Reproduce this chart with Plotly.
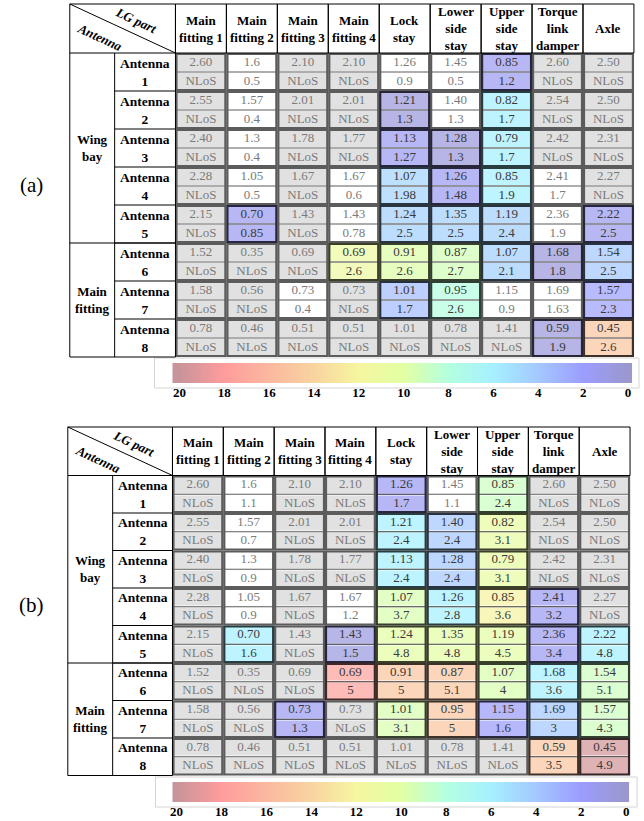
import numpy as np
import plotly.graph_objects as go
from plotly.colors import sample_colorscale, unlabel_rgb, hex_to_rgb

W, H = 644, 821
FONT = "Liberation Serif"

# ---------------- data ----------------
parts = ["Main<br>fitting 1", "Main<br>fitting 2", "Main<br>fitting 3", "Main<br>fitting 4",
         "Lock<br>stay", "Lower<br>side<br>stay", "Upper<br>side<br>stay",
         "Torque<br>link<br>damper", "Axle"]
antennas = ["Antenna<br>1", "Antenna<br>2", "Antenna<br>3", "Antenna<br>4",
            "Antenna<br>5", "Antenna<br>6", "Antenna<br>7", "Antenna<br>8"]
groups = ["Wing<br>bay", "Main<br>fitting"]
group_sizes = [5, 3]

distance = [
    ["2.60", "1.6", "2.10", "2.10", "1.26", "1.45", "0.85", "2.60", "2.50"],
    ["2.55", "1.57", "2.01", "2.01", "1.21", "1.40", "0.82", "2.54", "2.50"],
    ["2.40", "1.3", "1.78", "1.77", "1.13", "1.28", "0.79", "2.42", "2.31"],
    ["2.28", "1.05", "1.67", "1.67", "1.07", "1.26", "0.85", "2.41", "2.27"],
    ["2.15", "0.70", "1.43", "1.43", "1.24", "1.35", "1.19", "2.36", "2.22"],
    ["1.52", "0.35", "0.69", "0.69", "0.91", "0.87", "1.07", "1.68", "1.54"],
    ["1.58", "0.56", "0.73", "0.73", "1.01", "0.95", "1.15", "1.69", "1.57"],
    ["0.78", "0.46", "0.51", "0.51", "1.01", "0.78", "1.41", "0.59", "0.45"],
]

second_a = [
    ["NLoS", "0.5", "NLoS", "NLoS", "0.9", "0.5", "1.2", "NLoS", "NLoS"],
    ["NLoS", "0.4", "NLoS", "NLoS", "1.3", "1.3", "1.7", "NLoS", "NLoS"],
    ["NLoS", "0.4", "NLoS", "NLoS", "1.27", "1.3", "1.7", "NLoS", "NLoS"],
    ["NLoS", "0.5", "NLoS", "0.6", "1.98", "1.48", "1.9", "1.7", "NLoS"],
    ["NLoS", "0.85", "NLoS", "0.78", "2.5", "2.5", "2.4", "1.9", "2.5"],
    ["NLoS", "NLoS", "NLoS", "2.6", "2.6", "2.7", "2.1", "1.8", "2.5"],
    ["NLoS", "NLoS", "0.4", "NLoS", "1.7", "2.6", "0.9", "1.63", "2.3"],
    ["NLoS", "NLoS", "NLoS", "NLoS", "NLoS", "NLoS", "NLoS", "1.9", "2.6"],
]

second_b = [
    ["NLoS", "1.1", "NLoS", "NLoS", "1.7", "1.1", "2.4", "NLoS", "NLoS"],
    ["NLoS", "0.7", "NLoS", "NLoS", "2.4", "2.4", "3.1", "NLoS", "NLoS"],
    ["NLoS", "0.9", "NLoS", "NLoS", "2.4", "2.4", "3.1", "NLoS", "NLoS"],
    ["NLoS", "0.9", "NLoS", "1.2", "3.7", "2.8", "3.6", "3.2", "NLoS"],
    ["NLoS", "1.6", "NLoS", "1.5", "4.8", "4.8", "4.5", "3.4", "4.8"],
    ["NLoS", "NLoS", "NLoS", "5", "5", "5.1", "4", "3.6", "5.1"],
    ["NLoS", "NLoS", "1.3", "NLoS", "3.1", "5", "1.6", "3", "4.3"],
    ["NLoS", "NLoS", "NLoS", "NLoS", "NLoS", "NLoS", "NLoS", "3.5", "4.9"],
]

# colour level (0-20 scale) read from each highlighted cell; None = not highlighted
N = None
level_a = [
    [N, N, N, N, N, N, 1.5, N, N],
    [N, N, N, N, 0.6, N, 6.0, N, N],
    [N, N, N, N, 1.5, 0.6, 6.0, N, N],
    [N, N, N, N, 4.6, 1.5, 6.0, N, N],
    [N, 1.5, N, N, 4.4, 4.4, 4.4, N, 1.4],
    [N, N, N, 11.2, 9.8, 9.3, 4.4, 0.6, 4.0],
    [N, N, N, N, 3.5, 8.0, N, N, 2.3],
    [N, N, N, N, N, N, N, 0.6, 15.0],
]
level_b = [
    [N, N, N, N, 1.5, N, 9.0, N, N],
    [N, N, N, N, 6.0, 4.0, 10.6, N, N],
    [N, N, N, N, 6.0, 4.0, 10.6, N, N],
    [N, N, N, N, 9.6, 6.0, 12.2, 1.5, N],
    [N, 6.0, N, 0.8, 10.2, 10.2, 10.2, 1.5, 6.0],
    [N, N, N, 17.6, 15.0, 15.0, 9.6, 6.0, 9.1],
    [N, N, 1.5, N, 9.6, 15.0, 1.8, 4.0, 9.1],
    [N, N, N, N, N, N, N, 15.0, 19.6],
]

cbar_ticks = [20, 18, 16, 14, 12, 10, 8, 6, 4, 2, 0]

# ---------------- style ----------------
scale_hex = ["#9a98cc", "#9c9cff", "#a4c8ff", "#a6f0ff", "#b4ffe0", "#e2ffa4",
             "#f6f6a0", "#f8d4a0", "#fbb8a0", "#ff9c9c", "#c8949a"]
cs = [[i / (len(scale_hex) - 1), "rgb(%d,%d,%d)" % hex_to_rgb(h)] for i, h in enumerate(scale_hex)]


def darker(rgbstr, f=0.25):
    r, g, b = unlabel_rgb(rgbstr)
    return "rgb(%d,%d,%d)" % (int(r * f), int(g * f), int(b * f))


def fx(px):
    return px / W


def fy(py):
    return 1 - py / H


panels = [
    dict(tag="(a)", second=second_a, level=level_a, x0=174.0, cw=51.1, y0=53.0, rh=19.0, hdr=49.0,
         gw=45.0, aw=61.0, dom=(0, 362), grad=(171, 632, 363, 383), cbr=(20.31, -0.18),
         frame=(153, 639, 358, 388), tag_y=185),
    dict(tag="(b)", second=second_b, level=level_b, x0=171.0, cw=51.0, y0=475.5, rh=18.75, hdr=48.5,
         gw=45.0, aw=60.0, dom=(420, 780), grad=(171, 629, 782, 802), cbr=(20.18, -0.13),
         frame=(154, 637, 777, 807), tag_y=605),
]

fig = go.Figure()
layout = dict(width=W, height=H, margin=dict(l=0, r=0, t=0, b=0),
              paper_bgcolor="white", plot_bgcolor="rgba(0,0,0,0)", showlegend=False)
shapes, annotations = [], []
nc, na = len(parts), len(antennas)


def axname(kind, i):
    return f"{kind}axis" if i == 1 else f"{kind}axis{i}"


def axref(kind, i):
    return kind if i == 1 else f"{kind}{i}"


for p, P in enumerate(panels):
    ti, ci = 2 * p + 1, 2 * p + 2
    xr, yr = axref("x", ti), axref("y", ti)
    x0, cw, y0, rh = P["x0"], P["cw"], P["y0"], P["rh"]
    top_px, bot_px = P["dom"]
    layout[axname("x", ti)] = dict(domain=[0, 1], range=[(0 - x0) / cw - 0.5, (W - x0) / cw - 0.5],
                                   visible=False, fixedrange=True, anchor=yr)
    layout[axname("y", ti)] = dict(domain=[fy(bot_px), fy(top_px)],
                                   range=[(bot_px - y0) / rh - 0.5, (top_px - y0) / rh - 0.5],
                                   visible=False, fixedrange=True, anchor=xr)
    second, level = P["second"], P["level"]

    rows_idx = list(range(2 * na))
    zc = [[level[a][c] for c in range(nc)] for a in range(na) for k in range(2)]
    zg = [[1 if second[a][c] == "NLoS" else None for c in range(nc)] for a in range(na) for k in range(2)]

    fig.add_trace(go.Heatmap(x=list(range(nc)), y=rows_idx, z=zg, xaxis=xr, yaxis=yr,
                             colorscale=[[0, "#e1e1e1"], [1, "#e1e1e1"]], showscale=False,
                             xgap=2, ygap=2, hoverinfo="skip"))
    fig.add_trace(go.Heatmap(x=list(range(nc)), y=rows_idx, z=zc, xaxis=xr, yaxis=yr,
                             colorscale=cs, zmin=0, zmax=20, opacity=0.72, showscale=False,
                             xgap=2, ygap=2, hoverinfo="skip"))

    # cell texts
    tx, ty, tt, tcol = [], [], [], []
    for a in range(na):
        for k in range(2):
            for c in range(nc):
                tx.append(c)
                ty.append(2 * a + k)
                tt.append(distance[a][c] if k == 0 else second[a][c])
                tcol.append("#3a3a3a" if level[a][c] is not None else "#7a7a7a")
    fig.add_trace(go.Scatter(x=tx, y=ty, text=tt, mode="text", xaxis=xr, yaxis=yr,
                             textfont=dict(family=FONT, size=13, color=tcol),
                             cliponaxis=False, hoverinfo="skip"))

    # block borders
    ix, iy = 1.0 / cw, 1.0 / rh
    order = sorted([(a, c) for a in range(na) for c in range(nc)],
                   key=lambda t: level[t[0]][t[1]] is not None)
    for a, c in order:
        lev = level[a][c]
        col = "#5c5c5c" if lev is None else darker(sample_colorscale(cs, [lev / 20])[0])
        shapes.append(dict(type="rect", xref=xr, yref=yr, x0=c - 0.5 + ix, x1=c + 0.5 - ix,
                           y0=2 * a - 0.5 + iy, y1=2 * a + 1.5 - iy, line=dict(color=col, width=2.2)))
        shapes.append(dict(type="line", xref=xr, yref=yr, x0=c - 0.5 + ix, x1=c + 0.5 - ix,
                           y0=2 * a + 0.5, y1=2 * a + 0.5, line=dict(color=col, width=1.2)))

    # header row
    hdr_top = -0.5 - P["hdr"] / rh
    hdr_mid = (hdr_top - 0.5) / 2
    for c, name in enumerate(parts):
        shapes.append(dict(type="rect", xref=xr, yref=yr, x0=c - 0.5, x1=c + 0.5, y0=hdr_top, y1=-0.5,
                           line=dict(color="black", width=1)))
        annotations.append(dict(xref=xr, yref=yr, x=c, y=hdr_mid, text=f"<b>{name}</b>", showarrow=False,
                                font=dict(family=FONT, size=13, color="black")))
    ant_left = -0.5 - P["aw"] / cw
    grp_left = ant_left - P["gw"] / cw
    last = 2 * na - 0.5
    shapes.append(dict(type="rect", xref=xr, yref=yr, x0=grp_left, x1=-0.5, y0=hdr_top, y1=-0.5,
                       line=dict(color="black", width=1)))
    shapes.append(dict(type="line", xref=xr, yref=yr, x0=grp_left, x1=-0.5, y0=hdr_top, y1=-0.5,
                       line=dict(color="black", width=1)))
    dw, dh = -0.5 - grp_left, -0.5 - hdr_top
    annotations.append(dict(xref=xr, yref=yr, x=grp_left + 0.63 * dw, y=hdr_top + 0.34 * dh,
                            text="<b><i>LG part</i></b>", showarrow=False, textangle=25,
                            font=dict(family=FONT, size=13, color="black")))
    annotations.append(dict(xref=xr, yref=yr, x=grp_left + 0.29 * dw, y=hdr_top + 0.68 * dh,
                            text="<b><i>Antenna</i></b>", showarrow=False, textangle=25,
                            font=dict(family=FONT, size=13, color="black")))

    # label columns
    for xv in (grp_left, ant_left, -0.5):
        shapes.append(dict(type="line", xref=xr, yref=yr, x0=xv, x1=xv, y0=-0.5, y1=last,
                           line=dict(color="black", width=1)))
    shapes.append(dict(type="line", xref=xr, yref=yr, x0=grp_left, x1=-0.5, y0=last, y1=last,
                       line=dict(color="black", width=1)))
    for a, name in enumerate(antennas):
        if a > 0:
            shapes.append(dict(type="line", xref=xr, yref=yr, x0=ant_left, x1=-0.5,
                               y0=2 * a - 0.5, y1=2 * a - 0.5, line=dict(color="black", width=1)))
        annotations.append(dict(xref=xr, yref=yr, x=(ant_left - 0.5) / 2, y=2 * a + 0.5,
                                text=f"<b>{name}</b>", showarrow=False,
                                font=dict(family=FONT, size=13.5, color="black")))
    start = 0
    for g, size in zip(groups, group_sizes):
        if start > 0:
            shapes.append(dict(type="line", xref=xr, yref=yr, x0=grp_left, x1=-0.5,
                               y0=2 * start - 0.5, y1=2 * start - 0.5, line=dict(color="black", width=1)))
        annotations.append(dict(xref=xr, yref=yr, x=(grp_left + ant_left) / 2,
                                y=(2 * start - 0.5 + 2 * (start + size) - 0.5) / 2,
                                text=f"<b>{g}</b>", showarrow=False,
                                font=dict(family=FONT, size=13, color="black")))
        start += size

    # colour bar
    cx, cy = axref("x", ci), axref("y", ci)
    gx0, gx1, gy0, gy1 = P["grad"]
    rl, rr = P["cbr"]
    xs = np.linspace(rr, rl, 400)
    fig.add_trace(go.Heatmap(x=xs, y=[0], z=[np.clip(xs, 0, 20)], xaxis=cx, yaxis=cy,
                             colorscale=cs, zmin=0, zmax=20, showscale=False, hoverinfo="skip"))
    layout[axname("x", ci)] = dict(domain=[fx(gx0), fx(gx1)], range=[rl, rr], anchor=cy,
                                   showgrid=False, zeroline=False, showline=False, ticks="",
                                   tickvals=cbar_ticks, fixedrange=True,
                                   tickfont=dict(family=FONT, size=13, color="black", weight="bold"))
    layout[axname("y", ci)] = dict(domain=[fy(gy1), fy(gy0)], range=[-0.5, 0.5],
                                   visible=False, fixedrange=True, anchor=cx)
    fx0, fx1, fy0, fy1 = P["frame"]
    shapes.append(dict(type="rect", xref="paper", yref="paper", x0=fx(fx0), x1=fx(fx1),
                       y0=fy(fy1), y1=fy(fy0), line=dict(color="#d4d4d4", width=1),
                       layer="below"))
    annotations.append(dict(xref="paper", yref="paper", x=fx(30), y=fy(P["tag_y"]),
                            xanchor="center", yanchor="middle",
                            text=P["tag"], showarrow=False,
                            font=dict(family=FONT, size=21, color="black")))

layout["shapes"] = shapes
layout["annotations"] = annotations
fig.update_layout(**layout)
# let the figure fill the window from its top-left corner (no default page margin)
fig.write_html("out.html", config={"displayModeBar": False},
               post_script="document.body.style.margin='0px';document.body.style.overflow='hidden';")
